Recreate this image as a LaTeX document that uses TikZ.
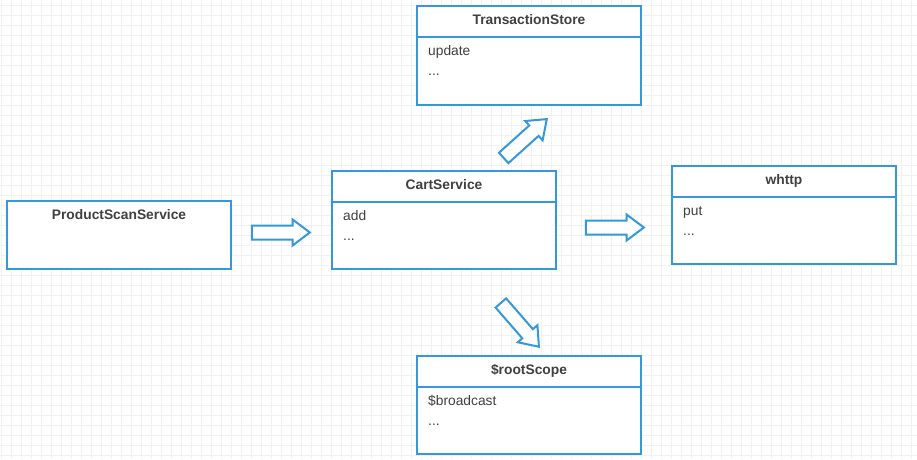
\documentclass[tikz,border=0pt]{standalone}
\usepackage{fontspec}
\setmainfont{Liberation Sans}
\usetikzlibrary{shapes.arrows}
\definecolor{umlblue}{RGB}{52,152,219}
\definecolor{txtgray}{RGB}{64,64,64}
\definecolor{gridgray}{RGB}{241,241,241}
\tikzset{
  gridline/.style={draw=gridgray, line width=0.7pt},
  classbox/.style={draw=umlblue, line width=2pt, fill=white, inner sep=0pt},
  divider/.style={draw=umlblue, line width=2pt},
  titletext/.style={font=\fontsize{13.8}{16}\selectfont\bfseries, text=txtgray, anchor=base, inner sep=0pt},
  bodytext/.style={font=\fontsize{13.8}{16}\selectfont, text=txtgray, anchor=base west, inner sep=0pt},
  blockarrow/.style={shape=single arrow, draw=umlblue, line width=2pt, fill=white,
    inner xsep=0pt, inner ysep=6pt, minimum height=58pt,
    single arrow head extend=6pt, single arrow tip angle=74, anchor=tip}
}
\begin{document}
\begin{tikzpicture}[x=1pt,y=-1pt]
\useasboundingbox (0,0) rectangle (917,459);
\fill[white] (0,0) rectangle (917,459);
% grid
\foreach \gx in {1,11,...,911} { \draw[gridline] (\gx,0) -- (\gx,459); }
\foreach \gy in {5,15,...,455} { \draw[gridline] (0,\gy) -- (917,\gy); }

% ProductScanService
\node[classbox, minimum width=224pt, minimum height=68pt] (pss) at (119,235) {};
\node[titletext] (psst) at (119,219) {ProductScanService};

% CartService
\node[classbox, minimum width=224pt, minimum height=98pt] (cart) at (444,220) {};
\draw[divider] (cart.west |- 0,202) -- (cart.east |- 0,202);
\node[titletext] (cartt) at (444,189) {CartService};
\node[bodytext] (cart1) at (343,220.5) {add};
\node[bodytext] (cart2) at (343,240.5) {...};

% TransactionStore
\node[classbox, minimum width=224pt, minimum height=99pt] (ts) at (529,55.5) {};
\draw[divider] (ts.west |- 0,37) -- (ts.east |- 0,37);
\node[titletext] (tst) at (529,24) {TransactionStore};
\node[bodytext] (ts1) at (428,55) {update};
\node[bodytext] (ts2) at (428,75) {...};

% whttp
\node[classbox, minimum width=224pt, minimum height=98pt] (wh) at (784,215) {};
\draw[divider] (wh.west |- 0,197) -- (wh.east |- 0,197);
\node[titletext] (wht) at (784,184) {whttp};
\node[bodytext] (wh1) at (683,215) {put};
\node[bodytext] (wh2) at (683,235) {...};

% $rootScope
\node[classbox, minimum width=224pt, minimum height=98pt] (rs) at (529,405) {};
\draw[divider] (rs.west |- 0,387) -- (rs.east |- 0,387);
\node[titletext] (rst) at (529,374) {\$rootScope};
\node[bodytext] (rs1) at (428,405) {\$broadcast};
\node[bodytext] (rs2) at (428,425) {...};

% block arrows (placed by their tips)
\node[blockarrow] (a1) at (311.5,232.5) {};
\node[blockarrow, rotate=42] (a2) at (548,118) {};
\node[blockarrow] (a3) at (645.5,227.5) {};
\node[blockarrow, rotate=-49] (a4) at (540,348) {};
\end{tikzpicture}
\end{document}
